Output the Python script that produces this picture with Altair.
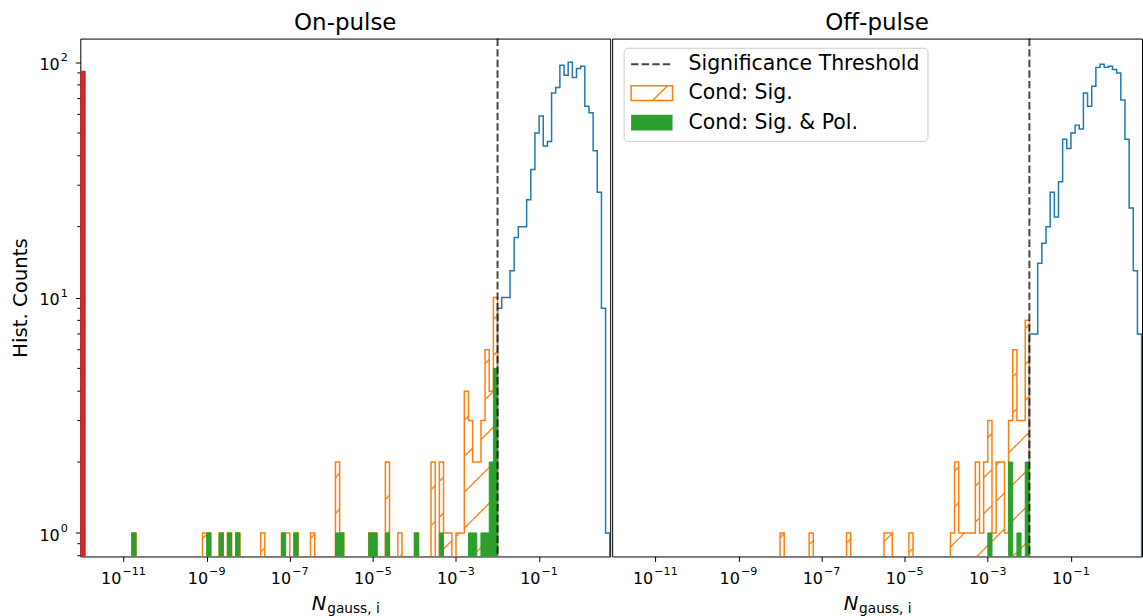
import math
import altair as alt
import pandas as pd

# ---------------- values ----------------
THRESHOLD = 1e-2
# histogram bins are 0.1 decade wide; a bin is named by its left edge in tenths of a decade
blue_first_bin = -20
blue_on_counts = [9, 10, 10, 13, 18, 20, 20, 26, 35, 50, 59, 44, 46, 74, 78,
                  97, 88, 100, 86, 94, 96, 65, 61, 42, 28, 9, 1]
blue_off_counts = [7, 7, 14, 17, 20, 28, 22, 31, 47, 43, 50, 54, 52, 74, 65,
                   79, 95, 98, 95, 96, 93, 90, 69, 47, 24, 13, 7]

sig_on_bins = [-108, -91, -90, -87, -85, -83, -77, -72, -71, -69, -65, -59, -58,
               -51, -50, -47, -44, -40, -36, -34, -33, -32, -30, -29, -28, -27,
               -26, -25, -24, -23, -22, -21]
sig_on_counts = [1, 1, 1, 1, 1, 1, 1, 1, 1, 1, 1, 2, 1,
                 1, 1, 2, 1, 1, 2, 2, 1, 1, 1, 1, 4, 3,
                 2, 2, 3, 6, 4, 10]
pol_on_bins = [-108, -90, -87, -85, -83, -72, -69, -59, -58, -51, -50, -47, -40,
               -34, -27, -26, -24, -23, -22, -21]
pol_on_counts = [1, 1, 1, 1, 1, 1, 1, 1, 1, 1, 1, 1, 1,
                 1, 1, 1, 1, 1, 2, 5]

sig_off_bins = [-80, -73, -64, -55, -54, -49, -39, -38, -37, -36, -35, -34, -33,
                -32, -31, -30, -29, -28, -27, -26, -25, -24, -23, -22, -21]
sig_off_counts = [1, 1, 1, 1, 1, 1, 1, 2, 1, 1, 1, 1, 2,
                  1, 2, 3, 1, 2, 2, 1, 3, 6, 3, 3, 8]
pol_off_bins = [-30, -25, -23, -21]
pol_off_counts = [1, 2, 1, 2]

zero_bar_edges = [-12.1, -11.91]   # log10 edges of the red bar (on-pulse only)
zero_bar_count = 92

x_tick_values = [1e-11, 1e-9, 1e-7, 1e-5, 1e-3, 1e-1]
x_tick_exponents = ["−11", "−9", "−7", "−5", "−3", "−1"]
y_tick_values = [1, 10, 100]
y_tick_exponents = ["0", "1", "2"]
y_minor_values = [0.8, 0.9, 2, 3, 4, 5, 6, 7, 8, 9, 20, 30, 40, 50, 60, 70, 80, 90]

panel_titles = ["On-pulse", "Off-pulse"]
y_title = "Hist. Counts"
x_title_main, x_title_sub = "N", "gauss, i"
legend_labels = ["Significance Threshold", "Cond: Sig.", "Cond: Sig. & Pol."]

# ---------------- layout / style ----------------
X_LOG = (-12.04, 0.71)
Y_LOG = (-0.1, 2.1)
W, H = 531, 519
PLOT_TOP = 37
LEFT_IMG = {"on": 80.5, "off": 80.5 + W}
BASE = 0.3  # stand-in for empty bins: below the y floor, clipped away
BLUE, ORANGE, GREEN, RED = "#1f77b4", "#ff7f0e", "#2ca02c", "#d62728"
FONT = "DejaVu Sans"
HATCH_SLOPE, HATCH_SPACING, HATCH_PHASE = 1.0, 36.0, 21.0
F_BASE, F_EXP, GAP = 16, 11.2, 1.0
GLYPH_W = {"0": 0.636, "1": 0.636, "2": 0.636, "3": 0.636, "5": 0.636, "7": 0.636,
           "9": 0.636, "−": 0.838}

x_scale = alt.Scale(type="log", domain=[10 ** X_LOG[0], 10 ** X_LOG[1]], nice=False)
y_scale = alt.Scale(type="log", domain=[10 ** Y_LOG[0], 10 ** Y_LOG[1]], nice=False)

x_axis = alt.Axis(values=x_tick_values, labels=False, tickColor="black", tickSize=5,
                  tickWidth=1, domain=False, grid=False, title=None)
y_axis = alt.Axis(values=y_tick_values, labels=False, tickColor="black", tickSize=5,
                  tickWidth=1, domain=False, grid=False, title=None)


def text_w(s, size):
    return sum(GLYPH_W[c] for c in s) * size


def step_polygon(bins, counts):
    cmap = dict(zip(bins, counts))
    lo, hi = min(bins), max(bins)
    pts = [(lo, BASE)]
    for b in range(lo, hi + 1):
        c = cmap.get(b, 0) or BASE
        pts.append((b, c))
        pts.append((b + 1, c))
    pts.append((hi + 1, BASE))
    return pd.DataFrame({"x": [10 ** (p[0] / 10) for p in pts],
                         "y": [p[1] for p in pts],
                         "i": list(range(len(pts)))})


def px_x(lx):
    return (lx - X_LOG[0]) / (X_LOG[1] - X_LOG[0]) * W


def px_y(ly):
    return (Y_LOG[1] - ly) / (Y_LOG[1] - Y_LOG[0]) * H


def hatch_segments(bins, counts, left_img):
    rects = [(px_x(b / 10), px_x((b + 1) / 10), px_y(math.log10(c))) for b, c in zip(bins, counts)]
    m, V = HATCH_SLOPE, HATCH_SPACING
    off = PLOT_TOP + m * left_img
    kmin = math.floor((off - HATCH_PHASE) / V) - 2
    kmax = math.ceil((off + H + m * W - HATCH_PHASE) / V) + 2
    rows = []
    for k in range(kmin, kmax + 1):
        D = HATCH_PHASE + k * V - off
        for x0, x1, yt in rects:
            xa = max(x0, (D - H) / m)
            xb = min(x1, (D - yt) / m)
            if xb - xa > 1e-6:
                ya, yb = D - m * xa, D - m * xb
                rows.append({
                    "x": 10 ** (X_LOG[0] + xa / W * (X_LOG[1] - X_LOG[0])),
                    "x2": 10 ** (X_LOG[0] + xb / W * (X_LOG[1] - X_LOG[0])),
                    "y": 10 ** (Y_LOG[1] - ya / H * (Y_LOG[1] - Y_LOG[0])),
                    "y2": 10 ** (Y_LOG[1] - yb / H * (Y_LOG[1] - Y_LOG[0])),
                })
    return pd.DataFrame(rows)


def one():
    return pd.DataFrame({"a": [0]})


def txt(text, x, y, size, **kw):
    props = dict(text=text, font=FONT, fontSize=size, color="black", baseline="alphabetic")
    props.update(kw)
    return alt.Chart(one()).mark_text(**props).encode(x=alt.value(x), y=alt.value(y))


def panel(key, title, blue_counts, sig_bins, sig_counts, pol_bins, pol_counts):
    ya = y_axis if key == "on" else None
    X = lambda f="x": alt.X(f"{f}:Q", scale=x_scale, axis=x_axis)
    Y = lambda f="y": alt.Y(f"{f}:Q", scale=y_scale, axis=ya)

    blue_bins = list(range(blue_first_bin, blue_first_bin + len(blue_counts)))
    blue = alt.Chart(step_polygon(blue_bins, blue_counts)).mark_line(
        color=BLUE, strokeWidth=1.5, clip=True).encode(x=X(), y=Y(), order="i:Q")

    hatch = alt.Chart(hatch_segments(sig_bins, sig_counts, LEFT_IMG[key])).mark_rule(
        color=ORANGE, strokeWidth=1.3, clip=True).encode(x=X(), y=Y(), x2="x2:Q", y2="y2:Q")

    sig = alt.Chart(step_polygon(sig_bins, sig_counts)).mark_line(
        color=ORANGE, strokeWidth=1.5, clip=True).encode(x=X(), y=Y(), order="i:Q")

    pol_df = pd.DataFrame({"x": [10 ** (b / 10) for b in pol_bins],
                           "x2": [10 ** ((b + 1) / 10) for b in pol_bins],
                           "y": pol_counts, "base": [BASE] * len(pol_bins)})
    pol = alt.Chart(pol_df).mark_rect(color=GREEN, stroke=GREEN, strokeWidth=1, clip=True).encode(
        x=X(), x2="x2:Q", y=Y(), y2="base:Q")

    thr = alt.Chart(pd.DataFrame({"x": [THRESHOLD]})).mark_rule(
        color="black", opacity=0.72, strokeWidth=2, strokeDash=[7.4, 3.2]).encode(x=X())

    layers = [blue, hatch, sig, pol]

    # x tick labels: "10" with a raised exponent
    for v, e in zip(x_tick_values, x_tick_exponents):
        w10, we = text_w("10", F_BASE), text_w(e, F_EXP)
        left = -(w10 + GAP + we) / 2
        d = pd.DataFrame({"x": [v]})
        layers.append(alt.Chart(d).mark_text(text="10", font=FONT, fontSize=F_BASE, color="black",
                                             align="right", baseline="alphabetic",
                                             dx=left + w10, dy=27.3).encode(x=X(), y=alt.value(H)))
        layers.append(alt.Chart(d).mark_text(text=e, font=FONT, fontSize=F_EXP, color="black",
                                             align="left", baseline="alphabetic",
                                             dx=left + w10 + GAP, dy=18.9).encode(x=X(), y=alt.value(H)))

    if key == "on":
        zero_df = pd.DataFrame({"x": [10 ** zero_bar_edges[0]], "x2": [10 ** zero_bar_edges[1]],
                                "y": [zero_bar_count], "base": [BASE]})
        layers.append(alt.Chart(zero_df).mark_rect(color=RED, clip=True).encode(
            x=X(), x2="x2:Q", y=Y(), y2="base:Q"))
        minor = alt.Chart(pd.DataFrame({"y": y_minor_values})).mark_rule(
            color="black", strokeWidth=1).encode(y=Y(), x=alt.value(-3), x2=alt.value(0))
        layers.append(minor)
        for v, e in zip(y_tick_values, y_tick_exponents):
            we = text_w(e, F_EXP)
            d = pd.DataFrame({"y": [v]})
            layers.append(alt.Chart(d).mark_text(text=e, font=FONT, fontSize=F_EXP, color="black",
                                                 align="right", baseline="alphabetic", dy=-0.8).encode(
                y=Y(), x=alt.value(-12.5)))
            layers.append(alt.Chart(d).mark_text(text="10", font=FONT, fontSize=F_BASE, color="black",
                                                 align="right", baseline="alphabetic", dy=7.7).encode(
                y=Y(), x=alt.value(-12.5 - we - GAP)))
        layers.append(txt(y_title, -53, 260, 19.8, angle=270, align="center"))

    layers += [thr,
               txt(title, W / 2, -9, 23, align="center"),
               txt(x_title_main, 232, 573, 19.5, align="left", fontStyle="italic"),
               txt(x_title_sub, 247.5, 576, 13.7, align="left")]

    if key == "off":
        leg = [
            alt.Chart(one()).mark_rect(fill="white", fillOpacity=0.8, stroke="#cccccc", strokeWidth=1,
                                       cornerRadius=4).encode(
                x=alt.value(12), x2=alt.value(316.5), y=alt.value(9.7), y2=alt.value(103)),
            alt.Chart(one()).mark_rule(color="black", opacity=0.72, strokeWidth=2,
                                       strokeDash=[7.4, 3.2]).encode(
                x=alt.value(19), x2=alt.value(60.5), y=alt.value(25.7), y2=alt.value(25.7)),
            alt.Chart(one()).mark_rect(fill="white", stroke=ORANGE, strokeWidth=1.5).encode(
                x=alt.value(19), x2=alt.value(60.5), y=alt.value(47.3), y2=alt.value(62)),
            alt.Chart(one()).mark_rule(color=ORANGE, strokeWidth=1.3).encode(
                x=alt.value(40.5), x2=alt.value(55.5), y=alt.value(62), y2=alt.value(47.3)),
            alt.Chart(one()).mark_rect(color=GREEN).encode(
                x=alt.value(19), x2=alt.value(60.5), y=alt.value(76.3), y2=alt.value(92)),
        ]
        for lab, yy in zip(legend_labels, [25.7, 55.0, 84.5]):
            leg.append(txt(lab, 76.5, yy, 20.5, align="left", baseline="middle"))
        layers += leg

    return alt.layer(*layers).properties(width=W, height=H)


left = panel("on", panel_titles[0], blue_on_counts, sig_on_bins, sig_on_counts, pol_on_bins, pol_on_counts)
right = panel("off", panel_titles[1], blue_off_counts, sig_off_bins, sig_off_counts, pol_off_bins, pol_off_counts)

chart = alt.hconcat(left, right, spacing=0).properties(
    padding={"left": 10.5, "top": 10, "right": 0, "bottom": 0}
).configure(font=FONT).configure_view(stroke="black", strokeWidth=1)

chart.save("out.html", embed_options={"renderer": "svg", "actions": False})
